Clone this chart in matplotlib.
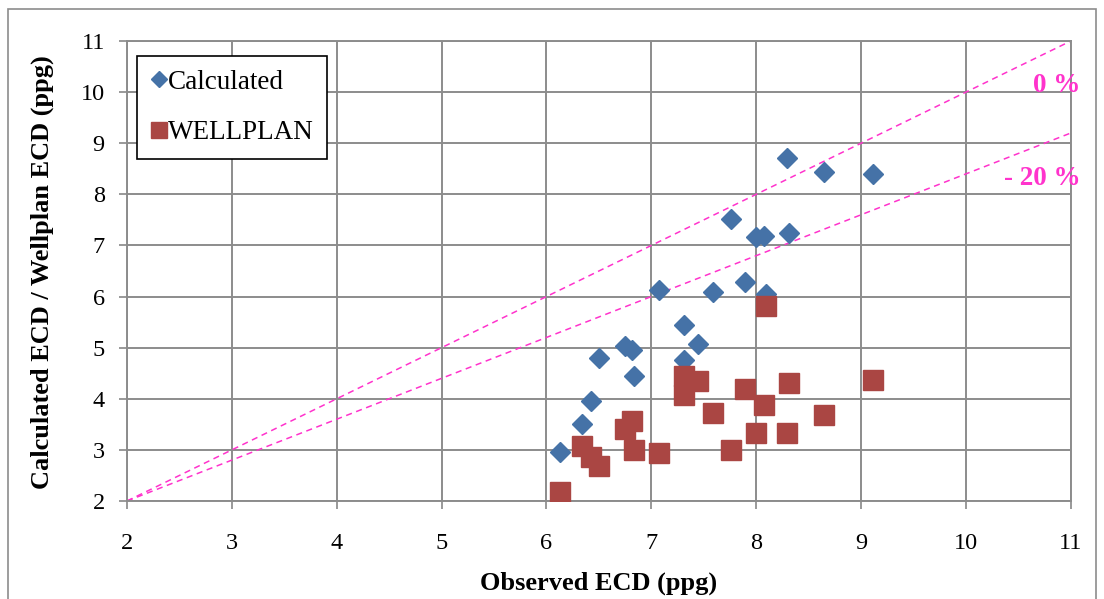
import matplotlib
matplotlib.use("Agg")
import matplotlib.pyplot as plt
from matplotlib.patches import Rectangle

observed = [6.13, 6.34, 6.42, 6.50, 6.75, 6.82, 6.83, 7.07, 7.31, 7.31, 7.44,
            7.59, 7.76, 7.89, 8.00, 8.07, 8.09, 8.29, 8.31, 8.65, 9.11]
calculated = [2.96, 3.51, 3.96, 4.80, 5.04, 4.96, 4.45, 6.12, 5.45, 4.76, 5.08,
              6.08, 7.52, 6.29, 7.17, 7.18, 6.05, 8.72, 7.24, 8.43, 8.39]
wellplan = [2.18, 3.08, 2.87, 2.68, 3.41, 3.57, 3.00, 2.94, 4.45, 4.08, 4.35,
            3.73, 3.00, 4.20, 3.33, 3.87, 5.81, 3.33, 4.31, 3.69, 4.37]
ref_x = [2, 11]
ref_0 = [2, 11]
ref_20 = [2, 9.2]
ticks = list(range(2, 12))

plt.rcParams['font.family'] = ['Liberation Serif', 'DejaVu Serif']

fig = plt.figure(figsize=(11.04, 5.99), dpi=100)
ax = fig.add_axes([0.115, 0.1636, 0.855, 0.768])

fig.patches.append(Rectangle((8/1104, -0.05), 1 - 16/1104, 1.05 - 9/599,
                             transform=fig.transFigure, fill=False,
                             edgecolor='#8c8c8c', linewidth=1.2))

ax.plot(ref_x, ref_0, linestyle=(0, (4, 3)), color='#ff33cc', linewidth=1.1, zorder=2)
ax.plot(ref_x, ref_20, linestyle=(0, (4, 3)), color='#ff33cc', linewidth=1.1, zorder=2)

ax.plot(observed, calculated, linestyle='none', marker='D', markersize=10,
        color='#4572a7', markeredgecolor='#4572a7', label='Calculated', zorder=3)
ax.plot(observed, wellplan, linestyle='none', marker='s', markersize=14,
        color='#aa4643', markeredgecolor='#aa4643', label='WELLPLAN', zorder=4)

ax.set_xlim(2, 11)
ax.set_ylim(2, 11)
ax.set_xticks(ticks)
ax.set_yticks(ticks)
ax.tick_params(axis='both', labelsize=17.5, length=6, color='#888888', width=1.2)
ax.tick_params(axis='x', pad=17)
ax.tick_params(axis='y', pad=10)
ax.grid(True, color='#8c8c8c', linewidth=1.4)
ax.set_axisbelow(True)
for s in ax.spines.values():
    s.set_color('#8c8c8c')
    s.set_linewidth(1.4)

ax.set_xlabel('Observed ECD (ppg)', fontsize=19, fontweight='bold')
ax.set_ylabel('Calculated ECD / Wellplan ECD (ppg)', fontsize=19, fontweight='bold')
ax.xaxis.set_label_coords(0.5 * (127 + 1071) / 1104, 1 - 583 / 599, transform=fig.transFigure)
ax.yaxis.set_label_coords(42 / 1104, 1 - 272 / 599, transform=fig.transFigure)
ax.xaxis.label.set_va('center')
ax.yaxis.label.set_va('center')

ax.text(11.095, 10.13, '0 %', color='#ff33cc', fontsize=19.5, fontweight='bold',
        ha='right', va='center', clip_on=False)
ax.text(11.095, 8.3, '- 20 %', color='#ff33cc', fontsize=19.5, fontweight='bold',
        ha='right', va='center', clip_on=False)

leg = ax.legend(loc='upper left', bbox_to_anchor=(137 / 1104, 1 - 56 / 599),
                bbox_transform=fig.transFigure, borderaxespad=0, fontsize=19.5,
                frameon=True, fancybox=False, edgecolor='black', labelspacing=0.95,
                handletextpad=0.0, handlelength=0.65, borderpad=0.5, markerscale=0.85,
                framealpha=1)
leg.get_frame().set_linewidth(1.2)

fig.savefig('out.png', dpi=100)
